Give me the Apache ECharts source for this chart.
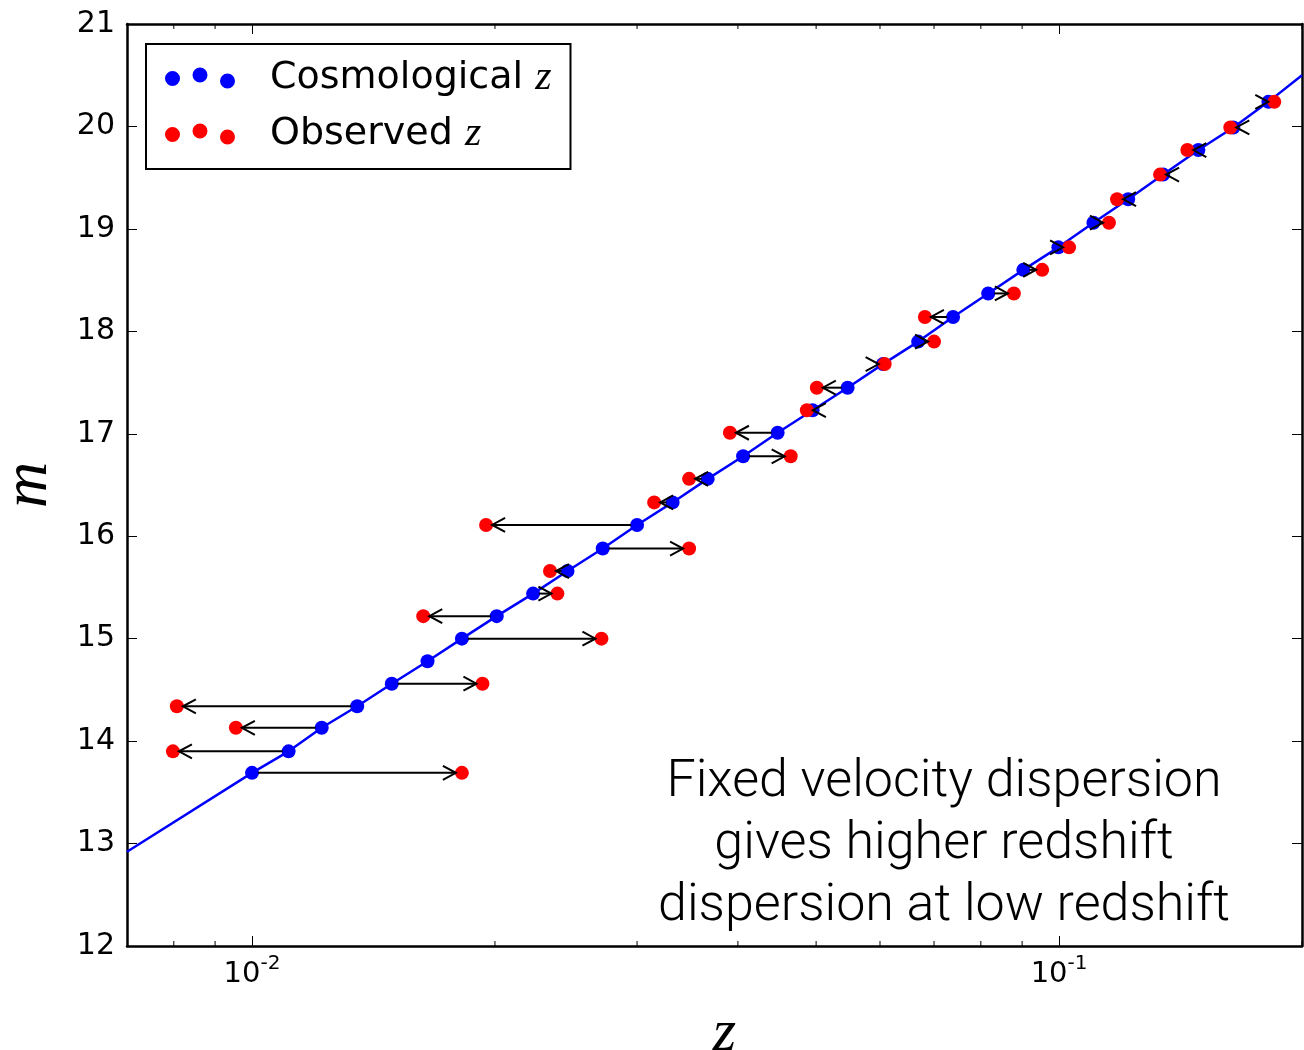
<!DOCTYPE html>
<html>
<head>
<meta charset="utf-8">
<title>Cosmological vs observed z</title>
<script src="https://cdn.jsdelivr.net/npm/echarts@6/dist/echarts.min.js"></script>
<style>
  html, body { margin: 0; padding: 0; background: #fff; }
  #chart { width: 1304px; height: 1050px; }
</style>
</head>
<body>
<div id="chart"></div>
<script>
// cosmological redshift of each object (blue dots)
var zCosmo = [0.0100, 0.0111, 0.0122, 0.0135, 0.0149, 0.0165, 0.0182, 0.0201, 0.0223, 0.0246,
              0.0272, 0.0300, 0.0332, 0.0367, 0.0406, 0.0448, 0.0495, 0.0547, 0.0605, 0.0669,
              0.0739, 0.0817, 0.0903, 0.0998, 0.1103, 0.1218, 0.1346, 0.1488, 0.1644, 0.1817];
// apparent magnitude, shared by the blue and red dot of a pair
var mag = [13.69, 13.90, 14.13, 14.34, 14.56, 14.78, 15.00, 15.22, 15.44, 15.66,
           15.88, 16.11, 16.33, 16.56, 16.78, 17.01, 17.23, 17.45, 17.68, 17.90,
           18.14, 18.37, 18.60, 18.82, 19.06, 19.29, 19.53, 19.77, 19.99, 20.24];
// observed redshift (red dots); null = no red dot visible
var zObs = [0.0182, 0.00798, 0.00955, 0.00807, 0.0193, null, 0.0271, 0.0163, 0.0239, 0.0234,
            0.0348, 0.0195, 0.0315, 0.0348, 0.0465, 0.0391, 0.0487, 0.0501, 0.0608, 0.0700,
            0.0682, 0.0879, 0.0953, 0.1029, 0.1153, 0.1180, 0.1334, 0.1442, 0.1630, 0.1848];
// where the model line meets the plot edges
var lineEndZ = [0.007, 0.2];
var lineEndM = [12.92, 20.50];

var xMajorTicks = [0.01, 0.1];
var xMinorTicks = [0.008, 0.009, 0.02, 0.03, 0.04, 0.05, 0.06, 0.07, 0.08, 0.09, 0.2];
var legendNames = ['Cosmological z', 'Observed z'];
var noteLines = ['Fixed velocity dispersion', 'gives higher redshift', 'dispersion at low redshift'];

// build series data
var blueData = [], redData = [], arrowData = [];
for (var i = 0; i < zCosmo.length; i++) {
  blueData.push([zCosmo[i], mag[i]]);
  if (zObs[i] != null) {
    redData.push([zObs[i], mag[i]]);
    arrowData.push([zCosmo[i], zObs[i], mag[i]]);
  }
}
var lineData = [[lineEndZ[0], lineEndM[0]]].concat(blueData, [[lineEndZ[1], lineEndM[1]]]);
var minorData = xMinorTicks.map(function (v) { return [v, 12]; });

// three dots, like the matplotlib scatter legend
var dotsIcon = 'path://M0,11A7.5,7.5 0 1,1 15,11A7.5,7.5 0 1,1 0,11Z' +
               'M27.5,7.5A7.5,7.5 0 1,1 42.5,7.5A7.5,7.5 0 1,1 27.5,7.5Z' +
               'M55,13.5A7.5,7.5 0 1,1 70,13.5A7.5,7.5 0 1,1 55,13.5Z';

function renderArrow(params, api) {
  var m = api.value(2);
  var a = api.coord([api.value(0), m]);
  var b = api.coord([api.value(1), m]);
  var dir = b[0] >= a[0] ? 1 : -1;
  var tipX = b[0] - dir * 6;
  var startX = a[0] + dir * 6;
  var y = a[1];
  var kids = [];
  if ((tipX - startX) * dir > 0) {
    kids.push({ type: 'line', shape: { x1: startX, y1: y, x2: tipX, y2: y },
                style: { stroke: '#000', lineWidth: 2 } });
  }
  kids.push({ type: 'polyline',
              shape: { points: [[tipX - dir * 13, y - 7], [tipX, y], [tipX - dir * 13, y + 7]] },
              style: { stroke: '#000', lineWidth: 2, fill: null } });
  return { type: 'group', children: kids };
}

function renderMinorTick(params, api) {
  var x = api.coord([api.value(0), api.value(1)])[0];
  var cs = params.coordSys;
  var top = cs.y, bottom = cs.y + cs.height;
  return { type: 'group', children: [
    { type: 'line', shape: { x1: x, y1: bottom, x2: x, y2: bottom - 5 }, style: { stroke: '#000', lineWidth: 1 } },
    { type: 'line', shape: { x1: x, y1: top, x2: x, y2: top + 5 }, style: { stroke: '#000', lineWidth: 1 } }
  ] };
}

var chart = echarts.init(document.getElementById('chart'));

var axisBase = {
  axisLine: { show: true, onZero: false, lineStyle: { color: '#000', width: 2.5 } },
  splitLine: { show: false }
};

var option = {
  backgroundColor: '#fff',
  animation: false,
  grid: { left: 127, right: 2, top: 24, bottom: 104, containLabel: false, outerBoundsMode: 'none' },
  legend: {
    orient: 'vertical',
    left: 146,
    top: 44,
    padding: [13, 19, 14, 19],
    itemGap: 14,
    itemWidth: 70,
    itemHeight: 21,
    selectedMode: false,
    backgroundColor: '#fff',
    borderColor: '#000',
    borderWidth: 2,
    borderRadius: 0,
    data: [
      { name: legendNames[0], icon: dotsIcon },
      { name: legendNames[1], icon: dotsIcon }
    ],
    formatter: function (name) {
      var p = name.split(' ');
      return '{t|' + p[0] + '} {z|' + p[1] + '}';
    },
    textStyle: {
      color: '#000',
      fontFamily: 'DejaVu Sans',
      fontSize: 38,
      lineHeight: 40,
      rich: {
        t: { fontFamily: 'DejaVu Sans', fontSize: 38, color: '#000', padding: [0, 0, 0, 30] },
        z: { fontFamily: 'Liberation Serif', fontStyle: 'italic', fontSize: 42, color: '#000' }
      }
    }
  },
  xAxis: [
    Object.assign({}, axisBase, {
      type: 'log', logBase: 10, min: 0.007, max: 0.2, position: 'bottom',
      name: 'z', nameLocation: 'middle', nameGap: 58,
      nameTextStyle: { fontFamily: 'Liberation Serif', fontStyle: 'italic', fontSize: 60, color: '#000', padding: [0, 0, 0, 20] },
      axisTick: { show: true, inside: true, length: 10, customValues: xMajorTicks, lineStyle: { color: '#000', width: 1 } },
      axisLabel: {
        show: true, margin: 8, customValues: xMajorTicks,
        formatter: function (v) {
          return '{b|10}{s|' + Math.round(Math.log10(v)) + '}';
        },
        rich: {
          b: { fontFamily: 'DejaVu Sans', fontSize: 29, color: '#000', lineHeight: 40 },
          s: { fontFamily: 'DejaVu Sans', fontSize: 20, color: '#000', verticalAlign: 'top' }
        }
      }
    }),
    Object.assign({}, axisBase, {
      type: 'log', logBase: 10, min: 0.007, max: 0.2, position: 'top',
      axisTick: { show: true, inside: true, length: 10, customValues: xMajorTicks, lineStyle: { color: '#000', width: 1 } },
      axisLabel: { show: false }
    })
  ],
  yAxis: [
    Object.assign({}, axisBase, {
      type: 'value', min: 12, max: 21, interval: 1, position: 'left',
      name: 'm', nameLocation: 'middle', nameGap: 66,
      nameTextStyle: { fontFamily: 'Liberation Serif', fontStyle: 'italic', fontSize: 64, color: '#000' },
      axisTick: { show: true, inside: true, length: 10, lineStyle: { color: '#000', width: 1 } },
      axisLabel: { margin: 12, fontFamily: 'DejaVu Sans', fontSize: 30, color: '#000' }
    }),
    Object.assign({}, axisBase, {
      type: 'value', min: 12, max: 21, interval: 1, position: 'right',
      axisTick: { show: true, inside: true, length: 10, lineStyle: { color: '#000', width: 1 } },
      axisLabel: { show: false }
    })
  ],
  graphic: [{
    type: 'text',
    x: 944,
    y: 752,
    style: {
      text: noteLines.join('\n'),
      align: 'center',
      verticalAlign: 'top',
      fontFamily: 'Roboto',
      fontWeight: 300,
      fontSize: 52,
      lineHeight: 62,
      fill: '#000'
    },
    z: 100
  }],
  series: [
    {
      name: 'model', type: 'line', data: lineData, showSymbol: false, symbol: 'none',
      lineStyle: { color: '#0000ff', width: 2.5 }, z: 1, silent: true
    },
    {
      name: legendNames[0], type: 'scatter', data: blueData, symbolSize: 14,
      itemStyle: { color: '#0000ff', opacity: 1 }, z: 2
    },
    {
      name: legendNames[1], type: 'scatter', data: redData, symbolSize: 14,
      itemStyle: { color: '#ff0000', opacity: 1 }, z: 3
    },
    {
      name: 'arrows', type: 'custom', data: arrowData, renderItem: renderArrow,
      encode: { x: [0, 1], y: 2 }, z: 4, silent: true
    },
    {
      name: 'minor ticks', type: 'custom', data: minorData, renderItem: renderMinorTick,
      encode: { x: 0, y: 1 }, z: 5, silent: true, clip: false
    }
  ]
};

chart.setOption(option);
</script>
</body>
</html>
